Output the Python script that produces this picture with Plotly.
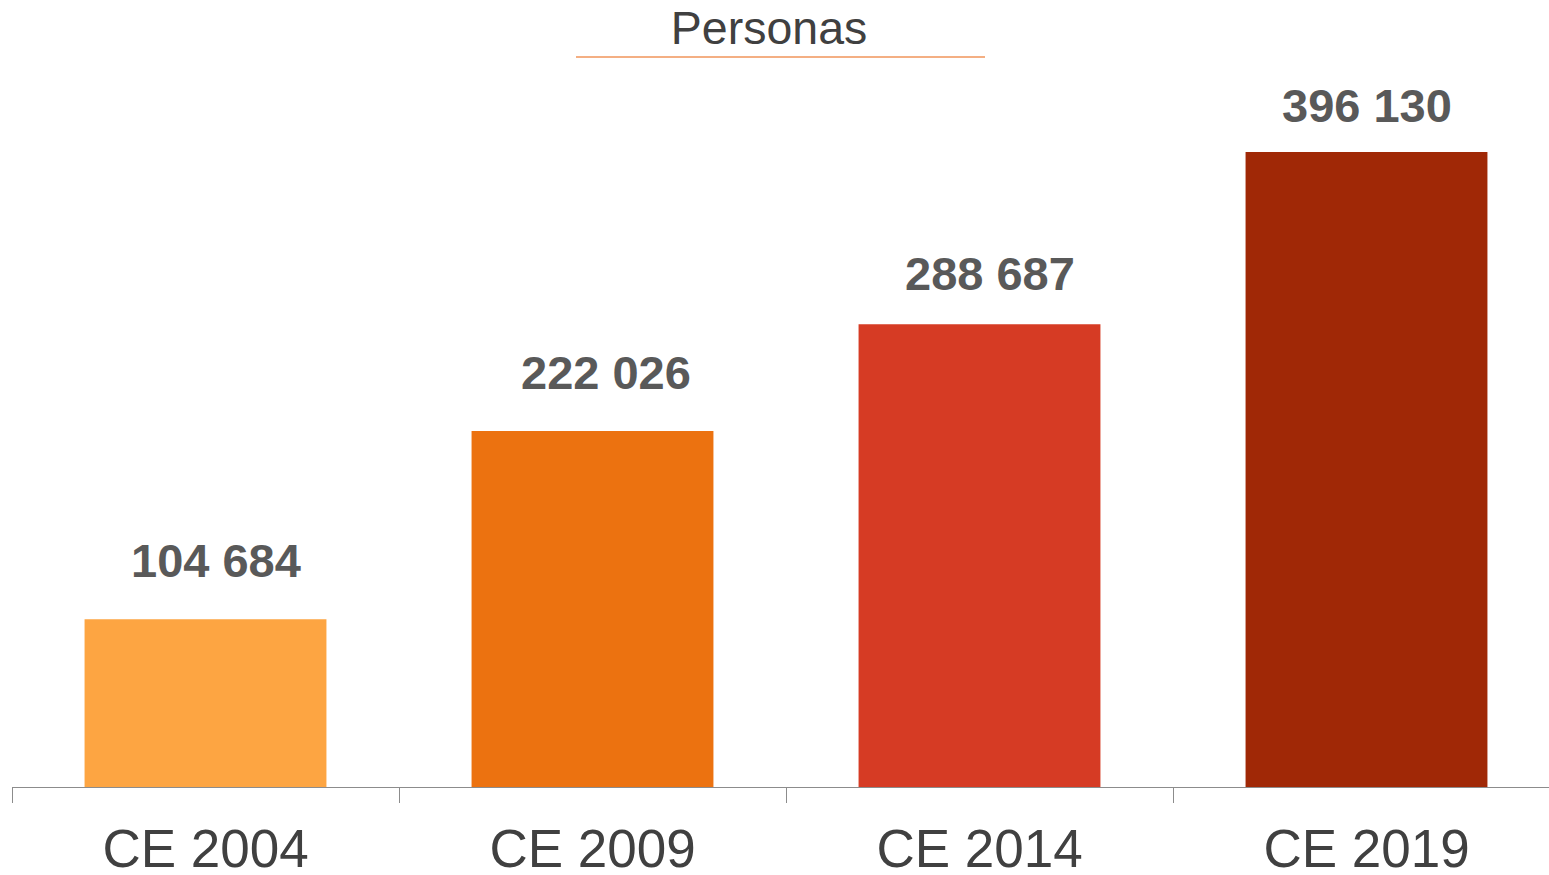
import plotly.graph_objects as go

categories = ["CE 2004", "CE 2009", "CE 2014", "CE 2019"]
values = [104684, 222026, 288687, 396130]
colors = ["#FDA542", "#EC7210", "#D63B24", "#A02806"]
title_text = "Personas"

# small per-label nudges (pixels) so the value labels sit as in the original
label_dx = [10, 13, 10, 0]
label_dy = [30, 30, 22, 18]

FONT = "Arial, Liberation Sans, sans-serif"

fig = go.Figure()
fig.add_trace(go.Bar(
    x=categories, y=values,
    marker=dict(color=colors, line=dict(width=0)),
    width=0.625,
    hoverinfo="skip",
))

for c, v, dx, dy in zip(categories, values, label_dx, label_dy):
    fig.add_annotation(
        x=c, y=v, xref="x", yref="y",
        text=f"<b>{v:,}</b>".replace(",", " "),
        showarrow=False, yanchor="bottom", yshift=dy, xshift=dx,
        font=dict(family=FONT, size=47, color="#595959"),
    )

fig.update_layout(
    width=1549, height=875,
    margin=dict(l=12, r=0, t=80, b=88, autoexpand=False),
    paper_bgcolor="white", plot_bgcolor="white",
    showlegend=False,
    bargap=0.375,
    title=dict(
        text=title_text, x=0.4965, xanchor="center", y=0.968, yanchor="middle",
        font=dict(family=FONT, size=46.5, color="#404040"),
    ),
    shapes=[dict(
        type="line", xref="paper", yref="paper",
        x0=(576 - 12) / 1537, x1=(985 - 12) / 1537,
        y0=(875 - 88 - 57) / 707, y1=(875 - 88 - 57) / 707,
        line=dict(color="#F0955A", width=1.5),
    )],
    xaxis=dict(
        type="category",
        range=[-0.5, 3.5 - 11 / 387],
        automargin=False,
        showline=True, linecolor="#8C8C8C", linewidth=1,
        ticks="outside", ticklen=15, tickcolor="#8C8C8C", tickwidth=1,
        tickson="boundaries",
        ticklabelstandoff=15,
        showgrid=False, zeroline=False,
        tickfont=dict(family=FONT, size=53, color="#404040"),
    ),
    yaxis=dict(
        range=[0, 441030], visible=False, showgrid=False, zeroline=False,
        automargin=False,
    ),
)

fig.write_html(
    "out.html",
    config={"displayModeBar": False},
    post_script="document.body.style.margin='0';",
)
